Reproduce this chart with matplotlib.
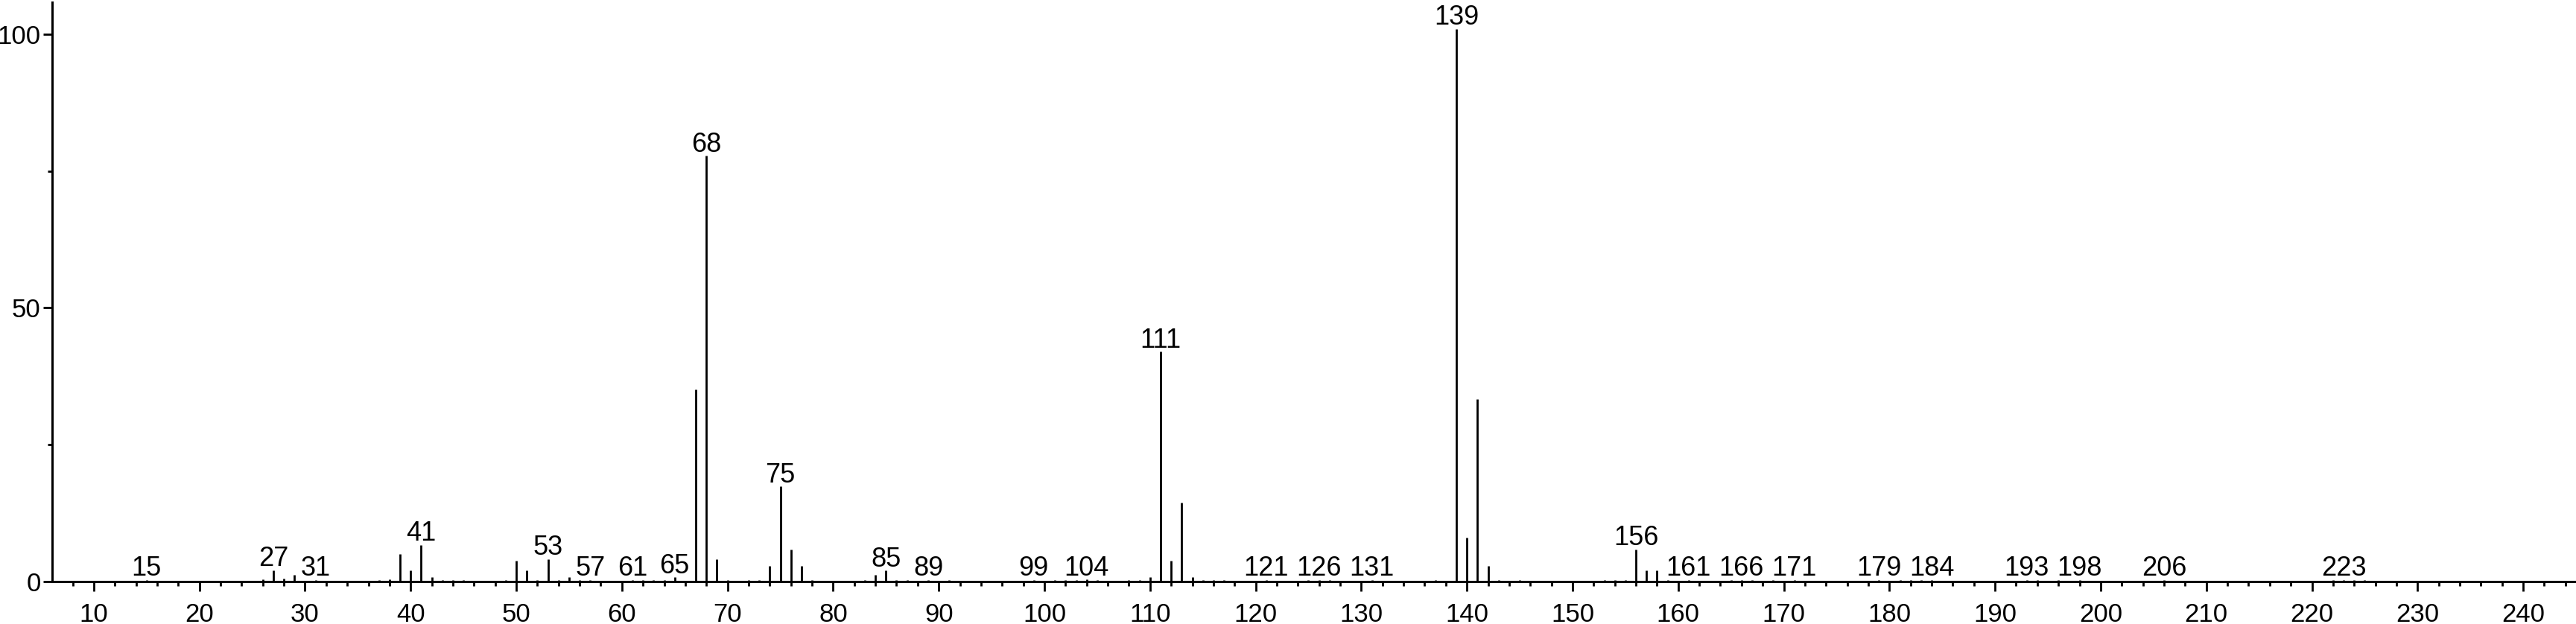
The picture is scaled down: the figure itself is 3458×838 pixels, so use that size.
import matplotlib.pyplot as plt
from matplotlib.ticker import MultipleLocator

# m/z and relative intensity (%)
mz = [15, 26, 27, 28, 29, 31, 37, 38, 39, 40, 41, 42, 43, 44, 45, 49, 50, 51, 52, 53,
      54, 55, 56, 57, 61, 62, 63, 64, 65, 67, 68, 69, 70, 72, 73, 74, 75, 76, 77, 78,
      83, 84, 85, 86, 87, 89, 91, 99, 101, 102, 103, 104, 105, 108, 109, 110, 111, 112,
      113, 114, 115, 116, 117, 121, 125, 126, 127, 131, 137, 139, 140, 141, 142, 143,
      145, 153, 154, 155, 156, 157, 158, 159, 161, 165, 166, 167, 169, 171, 179, 181,
      182, 183, 184, 193, 194, 196, 198, 206, 222, 223, 224, 225]
intensity = [0.3, 0.4, 2.1, 0.5, 1.2, 0.3, 0.3, 0.4, 5.0, 2.1, 6.7, 0.8, 0.3, 0.3, 0.3,
             0.3, 3.8, 2.1, 0.3, 4.1, 0.3, 0.8, 0.3, 0.3, 0.3, 0.3, 0.3, 0.3, 0.8, 35.1,
             77.8, 4.1, 0.3, 0.3, 0.3, 2.9, 17.4, 5.9, 2.9, 0.3, 0.3, 1.2, 2.0, 0.3, 0.3,
             0.3, 0.3, 0.3, 0.3, 0.3, 0.3, 0.4, 0.3, 0.3, 0.3, 0.8, 42.0, 3.8, 14.4, 0.8,
             0.3, 0.3, 0.3, 0.3, 0.3, 0.3, 0.3, 0.3, 0.3, 101.0, 8.0, 33.3, 2.9, 0.3,
             0.3, 0.3, 0.3, 0.3, 5.9, 2.1, 2.1, 0.3, 0.3, 0.3, 0.3, 0.3, 0.3, 0.3, 0.3,
             0.3, 0.3, 0.3, 0.3, 0.3, 0.3, 0.3, 0.3, 0.3, 0.3, 0.3, 0.3, 0.3]
labeled = [15, 27, 31, 41, 53, 57, 61, 65, 68, 75, 85, 89, 99, 104, 111, 121, 126, 131,
           139, 156, 161, 166, 171, 179, 184, 193, 198, 206, 223]

plt.rcParams['font.family'] = ['Liberation Sans', 'DejaVu Sans']

fig = plt.figure(figsize=(34.58, 8.38), dpi=100)
ax = fig.add_axes([0.0202, 0.068, 0.9798, 0.928])

ax.vlines(mz, 0, intensity, color='black', lw=2.0)

peaks = dict(zip(mz, intensity))
for m in labeled:
    ax.annotate(str(m), (m, peaks[m]), xytext=(0, 4), textcoords='offset points',
                ha='center', va='baseline', fontsize=26)

ax.set_xlim(6.05, 245.0)
ax.set_ylim(0, 105.8)

for s in ['top', 'right']:
    ax.spines[s].set_visible(False)
for s in ['left', 'bottom']:
    ax.spines[s].set_linewidth(2.2)

ax.xaxis.set_major_locator(MultipleLocator(10))
ax.xaxis.set_minor_locator(MultipleLocator(2))
ax.yaxis.set_major_locator(MultipleLocator(50))
ax.yaxis.set_minor_locator(MultipleLocator(25))
ax.tick_params(axis='x', which='major', length=9, width=2, direction='out', labelsize=25, pad=11)
ax.tick_params(axis='x', which='minor', length=4.5, width=2, direction='out')
ax.tick_params(axis='y', which='major', length=9, width=2, direction='out', labelsize=25, pad=2)
ax.tick_params(axis='y', which='minor', length=4.5, width=2, direction='out')

fig.savefig('out.png', dpi=100)
